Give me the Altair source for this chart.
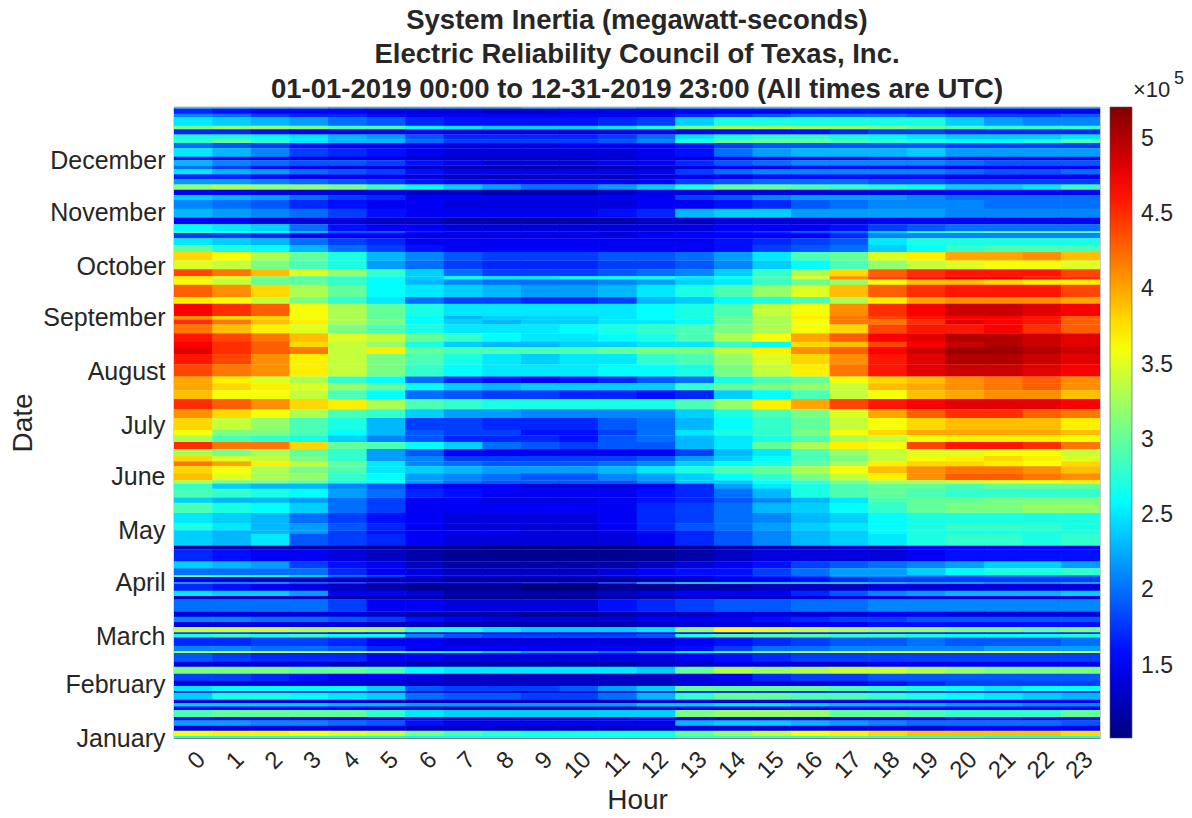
import altair as alt
import pandas as pd

title_lines = ["System Inertia (megawatt-seconds)",
               "Electric Reliability Council of Texas, Inc.",
               "01-01-2019 00:00 to 12-31-2019 23:00 (All times are UTC)"]
month_names = ["January","February","March","April","May","June","July","August","September","October","November","December"]
month_starts = [0,31,59,90,120,151,181,212,243,273,304,334]
hours = list(range(24))
legend_ticks = [150000,200000,250000,300000,350000,400000,450000,500000]
jet = ["#00007f","#0000ff","#007fff","#00ffff","#7fff7f","#ffff00","#ff7f00","#ff0000","#7f0000"]

# days covered by each band, top (31 December) to bottom (1 January)
band_days = [1,3,2,5,2,3,3,2,3,5,2,3,2,3,3,3,3,3,3,5,5,4,4,1,3,4,4,
             5,5,4,2,3,7,4,7,
             2,3,5,5,3,4,6,7,4,4,5,6,5,7,3,4,4,4,3,3,4,4,2,3,5,3,6,6,4,
             2,7,2,7,4,4,1,3,1,4,3,2,7,3,3,3,3,1,2,5,3,1,5,3,4,4,3,3,1,4,2,2,2,4,2,3,3,3,1]

# inertia per hour in units of 10^4 MW-s
bands = [
[25,25,25,25,24,24,24,24,24,25,25,25,24,25,25,25,25,25,25,25,24,24,24,24],
[17,16,15,15,15,14,14,14,13,13,14,14,14,15,15,15,16,16,16,16,15,15,15,15],
[21,20,18,17,17,16,15,15,15,15,15,15,15,17,18,19,20,20,20,19,18,18,18,19],
[25,24,23,22,20,19,17,16,16,16,16,17,18,24,27,27,27,27,27,27,24,22,21,21],
[31,32,32,31,29,29,26,25,24,24,24,25,27,31,33,33,32,32,31,30,29,28,28,28],
[17,17,16,15,15,15,15,14,14,14,14,14,15,15,16,16,16,17,18,18,17,17,17,17],
[27,27,26,25,23,22,19,17,17,17,17,18,20,25,27,28,28,27,26,25,24,24,24,25],
[28,30,28,25,23,23,20,18,18,18,18,19,21,27,30,30,30,29,28,27,26,26,27,29],
[20,19,18,16,15,15,15,14,14,14,15,15,15,16,18,19,19,19,19,19,18,18,18,18],
[25,23,21,18,17,16,15,14,14,14,14,14,15,16,20,22,23,23,23,24,22,22,22,22],
[16,15,15,14,14,14,13,13,13,13,13,13,14,14,15,15,15,15,16,16,15,15,15,15],
[23,21,20,19,19,18,16,15,14,14,14,15,15,17,19,20,21,21,21,21,20,19,19,19],
[20,18,16,15,14,14,13,12,12,12,12,12,13,14,15,15,16,16,16,16,15,15,15,15],
[25,23,22,20,19,18,16,15,15,15,15,15,15,18,20,21,21,21,21,21,20,19,19,20],
[17,17,16,15,15,15,14,13,13,13,13,13,14,15,15,16,16,16,16,16,15,15,15,15],
[22,22,21,20,19,18,16,15,15,15,15,15,15,18,19,20,20,20,19,19,18,18,18,18],
[32,33,32,32,31,28,26,24,22,20,20,22,24,27,30,30,29,28,27,26,24,24,25,28],
[15,15,14,14,14,14,13,13,12,12,12,13,14,14,14,14,14,14,14,14,15,15,15,15],
[24,23,22,20,18,17,15,15,15,15,15,15,15,18,19,21,22,22,22,21,20,20,20,20],
[21,20,19,17,16,15,15,14,14,14,14,14,15,15,16,17,19,20,21,21,21,20,20,20],
[23,22,21,20,18,16,15,15,15,15,15,16,17,23,24,24,22,22,22,22,21,21,21,21],
[15,15,14,14,14,13,13,12,12,12,12,12,13,13,14,14,14,14,15,15,15,15,15,15],
[26,25,24,20,16,15,15,14,14,14,14,14,14,14,15,15,15,16,18,19,20,20,20,20],
[29,27,26,23,19,19,16,15,15,15,15,14,14,15,16,17,19,20,24,28,29,30,30,30],
[18,18,17,15,15,15,14,14,14,14,14,14,15,15,15,15,15,17,21,21,21,21,21,21],
[25,24,23,20,18,17,15,15,15,15,15,15,15,15,16,17,18,19,25,27,27,27,27,27],
[30,27,26,23,20,18,16,15,15,15,15,15,15,15,16,18,19,20,24,26,28,29,29,29],
[38,36,33,30,27,23,21,19,18,18,18,19,19,20,22,25,29,30,35,37,40,40,41,39],
[35,34,31,29,27,22,20,18,17,17,17,18,18,19,21,24,26,29,32,34,35,36,36,35],
[44,42,39,35,32,28,24,20,18,18,18,19,20,21,24,28,33,38,43,45,46,46,46,44],
[37,35,31,29,28,26,24,26,25,25,26,26,26,25,26,29,35,41,44,46,47,47,46,45],
[36,34,30,30,28,26,23,21,20,20,20,21,22,24,25,28,30,32,36,39,39,38,37,37],
[43,41,38,33,30,26,25,24,23,22,22,23,25,27,29,32,35,39,43,45,46,46,46,44],
[37,36,34,31,28,25,20,18,18,17,17,18,23,24,26,27,29,33,37,40,41,41,41,40],
[47,45,43,36,33,30,27,25,25,25,25,25,26,27,29,34,36,41,45,47,49,49,48,47],
[41,38,38,36,33,30,26,23,24,24,24,25,26,27,30,33,37,42,44,46,47,47,46,43],
[45,42,39,37,33,31,26,24,23,24,24,25,25,26,30,33,36,42,42,45,48,47,46,43],
[42,39,37,35,31,29,27,25,25,25,26,27,28,29,31,33,36,38,44,46,46,47,45,43],
[46,44,42,39,35,34,30,28,26,25,25,26,27,29,33,36,40,43,47,48,50,50,49,48],
[47,45,43,38,34,32,27,24,23,23,24,24,25,25,28,26,38,39,44,47,49,50,49,48],
[48,45,43,42,34,37,30,29,29,29,29,30,31,31,34,37,41,43,47,49,51,51,50,49],
[46,44,41,37,34,31,29,27,25,24,25,25,28,29,32,35,38,41,46,48,50,50,49,48],
[44,42,41,37,34,31,28,26,25,25,25,26,26,27,31,34,37,42,46,48,49,49,48,47],
[40,37,35,33,28,26,20,17,16,15,16,17,19,20,27,29,30,36,38,39,41,42,43,41],
[40,38,37,35,32,30,26,24,23,24,24,24,24,28,30,31,32,34,39,40,41,42,43,41],
[39,36,36,34,29,26,20,19,18,18,17,17,16,17,24,26,29,34,36,39,40,41,41,39],
[45,43,41,38,37,33,29,28,27,27,27,27,27,29,32,37,40,44,46,47,48,48,48,47],
[41,38,36,33,29,28,24,22,22,21,21,21,21,24,27,29,31,35,40,43,45,45,43,42],
[38,34,32,29,27,23,18,18,17,17,17,19,20,23,26,28,30,34,36,38,39,39,39,37],
[36,31,31,29,26,23,19,18,18,16,16,18,20,25,27,28,31,36,38,40,40,40,40,39],
[33,29,28,27,24,21,19,17,17,17,16,19,20,23,25,27,29,33,34,36,37,37,37,36],
[45,42,42,38,30,29,26,24,20,19,18,19,19,23,25,30,33,37,36,44,46,46,45,42],
[33,31,33,30,28,22,19,15,15,15,15,15,15,18,23,25,29,32,34,35,35,36,36,34],
[38,35,34,31,28,22,21,18,18,18,18,18,19,22,24,26,29,31,34,36,37,38,37,35],
[42,40,37,34,30,25,21,20,19,19,19,20,21,24,26,27,30,33,37,38,38,37,36,38],
[38,36,33,31,29,25,24,23,22,22,22,23,25,27,29,30,33,36,39,41,42,42,41,39],
[39,35,33,32,28,26,22,21,20,19,19,21,22,24,26,28,31,34,37,41,43,43,42,41],
[33,31,31,30,27,26,22,20,19,19,19,19,21,24,24,26,28,31,33,33,34,35,36,37],
[28,24,23,23,21,19,16,15,15,14,14,14,15,17,22,25,27,29,30,30,29,30,30,30],
[29,28,27,26,22,20,17,16,15,15,15,15,16,17,20,23,27,29,30,29,28,28,28,28],
[24,23,23,22,20,18,15,15,14,14,14,15,16,17,19,21,23,25,29,30,30,31,31,31],
[29,27,26,24,20,18,15,15,15,15,15,15,17,18,20,23,24,26,28,30,31,31,32,32],
[25,24,23,20,18,16,15,14,14,14,14,15,17,18,20,21,23,24,26,27,27,27,27,27],
[27,25,23,22,19,17,15,14,14,14,14,15,17,19,20,22,24,25,26,27,28,28,28,27],
[24,23,23,22,18,16,15,15,15,14,14,15,16,17,19,21,23,24,26,27,27,27,27,27],
[24,23,25,19,18,17,15,14,14,14,14,14,15,17,19,21,23,24,25,27,28,28,27,28],
[12,12,12,12,12,11,11,11,10,10,10,10,10,11,12,13,13,14,13,15,15,15,15,15],
[17,16,15,15,14,13,12,11,11,11,11,11,11,12,13,14,14,14,14,15,16,16,16,16],
[24,23,22,18,16,15,13,12,12,12,12,12,13,14,15,16,18,19,20,21,22,24,24,22],
[20,20,20,20,17,15,14,13,13,13,13,14,15,16,16,18,20,22,22,24,26,27,27,28],
[30,28,27,24,20,18,15,14,14,14,14,14,15,15,16,17,18,21,21,20,19,20,20,20],
[15,14,13,13,13,12,12,11,11,11,11,11,12,13,14,15,16,17,18,18,18,18,18,18],
[22,21,21,19,18,16,15,15,15,16,15,18,22,24,24,24,24,24,23,22,22,21,21,22],
[17,16,15,14,13,12,11,11,11,10,10,11,11,12,12,13,13,13,14,14,14,14,14,14],
[25,24,24,22,15,15,14,12,12,12,12,13,14,15,15,15,17,19,21,22,23,23,23,24],
[13,13,13,13,12,12,12,11,11,11,11,12,12,13,13,13,14,14,14,14,14,14,14,14],
[20,20,20,20,18,15,15,14,14,14,14,16,17,18,19,19,20,20,21,21,21,21,21,21],
[14,14,14,14,14,13,12,12,12,11,11,12,13,13,14,14,14,14,15,15,14,14,14,14],
[21,21,20,20,19,18,16,15,14,14,14,14,15,15,15,16,17,18,18,19,19,19,19,19],
[14,14,14,14,14,13,13,12,12,12,12,12,13,14,14,14,15,15,16,16,16,16,16,16],
[34,34,34,33,33,32,28,27,25,24,24,24,25,32,36,35,34,33,32,32,31,31,30,31],
[18,18,17,17,16,16,15,15,15,15,15,15,15,16,16,17,17,17,17,17,17,17,17,17],
[27,28,27,28,26,26,21,19,18,18,18,18,19,27,29,29,29,28,28,27,26,26,26,27],
[17,17,18,18,17,15,15,14,14,14,14,14,14,15,16,17,18,19,19,20,19,19,19,20],
[21,21,20,20,19,17,15,15,15,15,15,15,15,16,18,20,20,21,21,21,21,22,22,22],
[33,34,34,33,33,31,28,26,24,22,22,20,23,26,29,31,33,34,35,35,35,35,35,34],
[19,18,17,17,17,15,15,14,14,14,14,14,14,15,16,17,18,18,18,18,18,18,18,18],
[14,14,14,14,13,13,12,12,12,12,12,12,13,13,14,14,14,14,15,15,15,15,15,15],
[31,31,31,30,30,29,26,25,25,25,25,25,24,30,33,32,33,34,34,33,32,31,31,31],
[18,18,17,16,15,15,14,13,13,13,13,13,13,14,15,17,18,18,19,19,19,19,19,19],
[14,14,14,14,14,13,13,13,13,13,13,13,13,14,14,14,14,15,16,17,18,18,18,18],
[25,26,26,26,26,24,19,18,18,18,19,22,24,30,30,30,30,29,28,27,26,25,26,26],
[14,14,14,14,14,13,13,13,13,13,13,13,13,14,14,14,14,14,14,14,14,14,14,14],
[24,27,27,26,25,24,20,19,19,18,18,20,23,28,30,30,29,29,28,27,26,25,24,23],
[14,14,14,14,14,13,13,13,13,13,13,13,14,14,14,14,14,14,15,15,15,15,15,15],
[24,24,24,24,23,23,22,22,22,22,22,22,24,24,25,25,24,23,23,23,22,22,21,21],
[15,15,15,15,15,14,14,13,13,13,13,13,14,14,14,14,14,15,15,15,15,15,15,15],
[29,30,30,30,30,28,25,24,24,24,24,24,24,31,32,32,32,30,30,29,28,28,28,30],
[16,16,16,15,15,15,14,13,13,13,13,14,15,15,15,15,15,15,15,15,16,16,15,16],
[22,22,21,21,20,19,16,15,15,15,15,15,15,23,24,24,23,22,21,20,20,20,20,19],
[14,14,14,14,14,14,13,13,13,13,13,13,13,14,14,14,14,14,14,14,15,15,15,15],
[36,37,37,36,35,34,31,29,28,27,27,27,27,30,32,34,36,37,38,39,39,39,39,38],
[27,27,27,27,27,27,26,26,26,26,26,26,26,28,28,28,28,29,28,28,28,27,27,27],
]

records = []
top = 365
for days, row in zip(band_days, bands):
    for h, v in zip(hours, row):
        records.append({"hour": h, "d1": top - days, "d2": top + 0.15, "v": v * 10000})
    top -= days
df = pd.DataFrame(records)

INK = "#262626"
FONT = "Liberation Sans"
color_scale = alt.Scale(domain=[102000, 521000], range=jet, interpolate="rgb")

heat = alt.Chart(df).mark_rect(width=39.2, clip=True, opacity=1).encode(
    x=alt.X("hour:O", sort=hours, title="Hour",
            scale=alt.Scale(paddingInner=0, paddingOuter=0),
            axis=alt.Axis(labelAngle=315, labelFontSize=24, labelColor=INK, labelFont=FONT,
                          labelAlign="right", labelBaseline="top", labelPadding=9,
                          titleFontSize=28, titleColor=INK, titleFont=FONT, titleFontWeight="normal",
                          titlePadding=4, ticks=False, domainColor="#555555", domainWidth=0.6, grid=False)),
    y=alt.Y("d1:Q", title="Date", scale=alt.Scale(domain=[0, 365], nice=False, zero=False),
            axis=alt.Axis(values=month_starts,
                          labelExpr="%s[indexof(%s,datum.value)]" % (month_names, month_starts),
                          labelFontSize=25, labelColor=INK, labelFont=FONT, labelPadding=9,
                          titleFontSize=28, titleColor=INK, titleFont=FONT, titleFontWeight="normal",
                          titlePadding=5, ticks=False, domainColor="#555555", domainWidth=0.6, grid=False)),
    y2="d2:Q",
    color=alt.Color("v:Q", scale=color_scale,
                    legend=alt.Legend(orient="none", legendX=936, legendY=0, title=None,
                                      gradientLength=631, gradientThickness=22, values=legend_ticks,
                                      labelExpr="'' + datum.value / 100000", labelFontSize=23,
                                      labelColor=INK, labelFont=FONT, labelOffset=9,
                                      gradientStrokeColor="#555555", gradientStrokeWidth=0.6)),
)

bar_ticks = alt.Chart(pd.DataFrame({"t": legend_ticks})).mark_rule(color="#222222", strokeWidth=0.7).encode(
    y=alt.Y("t:Q", scale=alt.Scale(domain=[102000, 521000], nice=False, zero=False), axis=None),
    x=alt.value(952), x2=alt.value(958),
)

exp_base = alt.Chart(pd.DataFrame({"t": ["×10"]})).mark_text(
    font=FONT, fontSize=22, color=INK, align="left", baseline="alphabetic"
).encode(text="t:N", x=alt.value(959), y=alt.value(-10))
exp_pow = alt.Chart(pd.DataFrame({"t": ["5"]})).mark_text(
    font=FONT, fontSize=18, color=INK, align="left", baseline="alphabetic"
).encode(text="t:N", x=alt.value(1000), y=alt.value(-23))

chart = alt.layer(heat, bar_ticks, exp_base, exp_pow).resolve_scale(y="independent").properties(
    width=926, height=631,
    autosize=alt.AutoSizeParams(type="none"),
    padding={"left": 166, "top": 99, "right": 84, "bottom": 72},
    title=alt.TitleParams(text=title_lines, font=FONT, fontSize=27.5, fontWeight="bold", color=INK,
                          lineHeight=34.5, anchor="middle", offset=-33),
).configure_view(stroke="#666666", strokeWidth=0.6)

chart.save("out.html", embed_options={"renderer": "svg", "actions": False})
